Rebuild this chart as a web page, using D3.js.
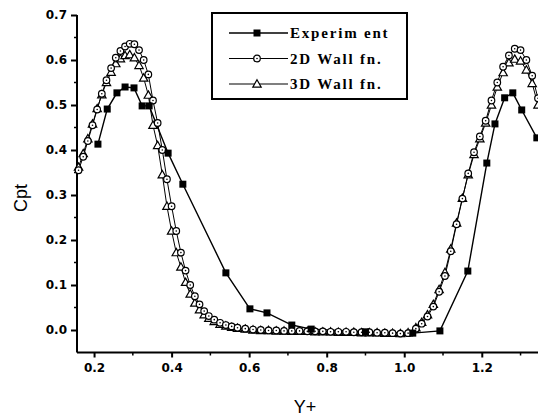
<!DOCTYPE html>
<html>
<head>
<meta charset="utf-8">
<script src="https://cdn.jsdelivr.net/npm/d3@7"></script>
<style>
  html, body { margin: 0; padding: 0; background: #fff; }
  svg { display: block; }
</style>
</head>
<body>
<svg id="chart" width="538" height="419"></svg>
<script>
// measured data (Cpt vs Y+)
const expX = [0.210, 0.234, 0.259, 0.280, 0.303, 0.324, 0.342, 0.391, 0.429, 0.540, 0.602, 0.646, 0.710, 0.760, 0.900, 1.022, 1.092, 1.164, 1.213, 1.234, 1.259, 1.280, 1.303, 1.342];
const expY = [0.413, 0.491, 0.527, 0.540, 0.538, 0.498, 0.498, 0.393, 0.324, 0.127, 0.047, 0.038, 0.011, 0.002, -0.004, -0.007, -0.002, 0.131, 0.371, 0.458, 0.516, 0.527, 0.489, 0.427];

const simX = [0.160, 0.172, 0.184, 0.196, 0.208, 0.220, 0.232, 0.244, 0.256, 0.268, 0.280, 0.292, 0.304, 0.316, 0.328, 0.340, 0.352, 0.364, 0.376, 0.388,
  0.400, 0.412, 0.424, 0.436, 0.448, 0.460, 0.472, 0.484, 0.496, 0.510, 0.525, 0.540, 0.555, 0.570, 0.590, 0.610, 0.630, 0.650, 0.670, 0.690,
  0.710, 0.730, 0.750, 0.770, 0.790, 0.810, 0.830, 0.850, 0.870, 0.890, 0.910, 0.930, 0.950, 0.970, 0.990, 1.010, 1.030, 1.045, 1.060, 1.075,
  1.090, 1.105, 1.120, 1.135, 1.150, 1.165, 1.180, 1.195, 1.210, 1.225, 1.240, 1.255, 1.270, 1.285, 1.300, 1.315, 1.330, 1.345];

const wall2D = [0.355, 0.385, 0.420, 0.455, 0.490, 0.525, 0.555, 0.582, 0.605, 0.620, 0.630, 0.636, 0.635, 0.622, 0.600, 0.568, 0.510, 0.460, 0.400, 0.335,
  0.275, 0.220, 0.172, 0.132, 0.100, 0.075, 0.057, 0.042, 0.031, 0.023, 0.016, 0.011, 0.008, 0.005, 0.003, 0.001, 0.000, -0.001, -0.001, -0.002,
  -0.002, -0.002, -0.003, -0.003, -0.003, -0.004, -0.004, -0.004, -0.005, -0.005, -0.005, -0.006, -0.006, -0.007, -0.008, -0.007, 0.003, 0.014, 0.030, 0.052,
  0.085, 0.120, 0.175, 0.235, 0.292, 0.348, 0.395, 0.430, 0.465, 0.510, 0.550, 0.585, 0.610, 0.625, 0.622, 0.600, 0.565, 0.515];

const wall3D = [0.362, 0.392, 0.425, 0.458, 0.492, 0.523, 0.550, 0.573, 0.592, 0.603, 0.610, 0.612, 0.605, 0.588, 0.560, 0.522, 0.455, 0.410, 0.345, 0.275,
  0.220, 0.172, 0.140, 0.106, 0.080, 0.060, 0.045, 0.034, 0.026, 0.019, 0.013, 0.009, 0.006, 0.004, 0.002, 0.000, -0.001, -0.001, -0.002, -0.002,
  -0.003, -0.003, -0.003, -0.004, -0.004, -0.004, -0.005, -0.005, -0.005, -0.006, -0.006, -0.006, -0.007, -0.007, -0.008, -0.006, 0.005, 0.017, 0.034, 0.057,
  0.090, 0.128, 0.180, 0.238, 0.293, 0.345, 0.390, 0.425, 0.460, 0.500, 0.540, 0.572, 0.594, 0.602, 0.598, 0.578, 0.548, 0.500];

const seriesNames = ["Experiment", "2D Wall fn.", "3D Wall fn."];
const legendLabels = ["Experim ent", "2D Wall fn.", "3D Wall fn."];
const xTicks = [0.2, 0.4, 0.6, 0.8, 1.0, 1.2];
const xTickLabels = ["0.2", "0.4", "0.6", "0.8", "1.0", "1.2"];
const yTicks = [0.0, 0.1, 0.2, 0.3, 0.4, 0.5, 0.6, 0.7];

const svg = d3.select("#chart");

const x = d3.scaleLinear().domain([0.156, 1.345]).range([77, 538]);
const y = d3.scaleLinear().domain([-0.05, 0.7]).range([352.5, 15]);

const tickFont = "'DejaVu Sans', sans-serif";

// axes
const xAxis = svg.append("g").attr("transform", `translate(0,${y(-0.05)})`)
  .call(d3.axisBottom(x).tickValues(xTicks).tickSize(5).tickPadding(6)
    .tickFormat((d, i) => xTickLabels[i]));
xAxis.select(".domain").attr("d", `M${x.range()[0]},0H538`).attr("stroke-width", 2);
xAxis.selectAll(".tick line").attr("stroke-width", 2);
xAxis.selectAll("text").attr("font-family", tickFont).attr("font-weight", "bold")
  .attr("font-size", 12).attr("fill", "#000");

const xMinor = d3.range(0.3, 1.35, 0.2);
svg.append("g").selectAll("line").data(xMinor).join("line")
  .attr("x1", d => x(d)).attr("x2", d => x(d))
  .attr("y1", y(-0.05)).attr("y2", y(-0.05) + 3)
  .attr("stroke", "#000").attr("stroke-width", 1.5);

const yAxis = svg.append("g").attr("transform", `translate(${x.range()[0]},0)`)
  .call(d3.axisLeft(y).tickValues(yTicks).tickSize(6).tickPadding(4).tickFormat(d3.format(".1f")));
yAxis.select(".domain").attr("d", `M0,${y(-0.05)}V${y(0.7)}`).attr("stroke-width", 2);
yAxis.selectAll(".tick line").attr("stroke-width", 2);
yAxis.selectAll("text").attr("font-family", tickFont).attr("font-weight", "bold")
  .attr("font-size", 12).attr("fill", "#000");

const yMinor = [-0.05, 0.05, 0.15, 0.25, 0.35, 0.45, 0.55, 0.65];
svg.append("g").selectAll("line").data(yMinor.slice(1)).join("line")
  .attr("x1", x.range()[0] - 3).attr("x2", x.range()[0])
  .attr("y1", d => y(d)).attr("y2", d => y(d))
  .attr("stroke", "#000").attr("stroke-width", 1.5);

// axis titles
svg.append("text")
  .attr("transform", `translate(27,198) rotate(-90)`)
  .attr("text-anchor", "middle")
  .attr("font-family", "'Liberation Sans', Arial, sans-serif")
  .attr("font-size", 18)
  .text("Cpt");

svg.append("text")
  .attr("x", 305).attr("y", 413)
  .attr("text-anchor", "middle")
  .attr("font-family", "'Liberation Sans', Arial, sans-serif")
  .attr("font-size", 18)
  .text("Y+");

// markers
const drawMarker = (g, type, cx, cy) => {
  if (type === 0) {
    g.append("rect").attr("x", cx - 3.5).attr("y", cy - 3.5).attr("width", 7).attr("height", 7)
      .attr("fill", "#000");
  } else if (type === 1) {
    g.append("circle").attr("cx", cx).attr("cy", cy).attr("r", 3.3)
      .attr("fill", "#fff").attr("stroke", "#000").attr("stroke-width", 1.2);
    g.append("circle").attr("cx", cx).attr("cy", cy).attr("r", 0.8).attr("fill", "#000");
  } else {
    const s = 4.2;
    g.append("path").attr("d", `M${cx},${cy - s}L${cx + s},${cy + s * 0.75}L${cx - s},${cy + s * 0.75}Z`)
      .attr("fill", "#fff").attr("stroke", "#000").attr("stroke-width", 1.2);
  }
};

const plot = svg.append("g");
const line = d3.line().x(d => x(d[0])).y(d => y(d[1]));

const series = [
  d3.zip(expX, expY),
  d3.zip(simX, wall2D),
  d3.zip(simX, wall3D)
];

series.forEach((pts, i) => {
  plot.append("path").datum(pts)
    .attr("d", line)
    .attr("fill", "none")
    .attr("stroke", "#000")
    .attr("stroke-width", i === 0 ? 1.4 : 1);
});
[2, 1, 0].forEach(i => {
  const g = plot.append("g").attr("class", "markers-" + i);
  series[i].forEach(p => drawMarker(g, i, x(p[0]), y(p[1])));
});

// legend
const legend = svg.append("g");
legend.append("rect")
  .attr("x", 212).attr("y", 13).attr("width", 195).attr("height", 86)
  .attr("fill", "#fff").attr("stroke", "#000").attr("stroke-width", 2);

seriesNames.forEach((name, i) => {
  const ly = 33 + i * 25.5;
  legend.append("line").attr("x1", 229).attr("x2", 288).attr("y1", ly).attr("y2", ly)
    .attr("stroke", "#000").attr("stroke-width", i === 0 ? 1.6 : 1.2);
  drawMarker(legend, i, 257, ly);
  legend.append("text")
    .attr("x", 290).attr("y", ly + 5)
    .attr("font-family", "'Liberation Serif', 'Times New Roman', serif")
    .attr("font-weight", "bold")
    .attr("font-size", 15)
    .attr("letter-spacing", 1.8)
    .text(legendLabels[i]);
});
</script>
</body>
</html>
